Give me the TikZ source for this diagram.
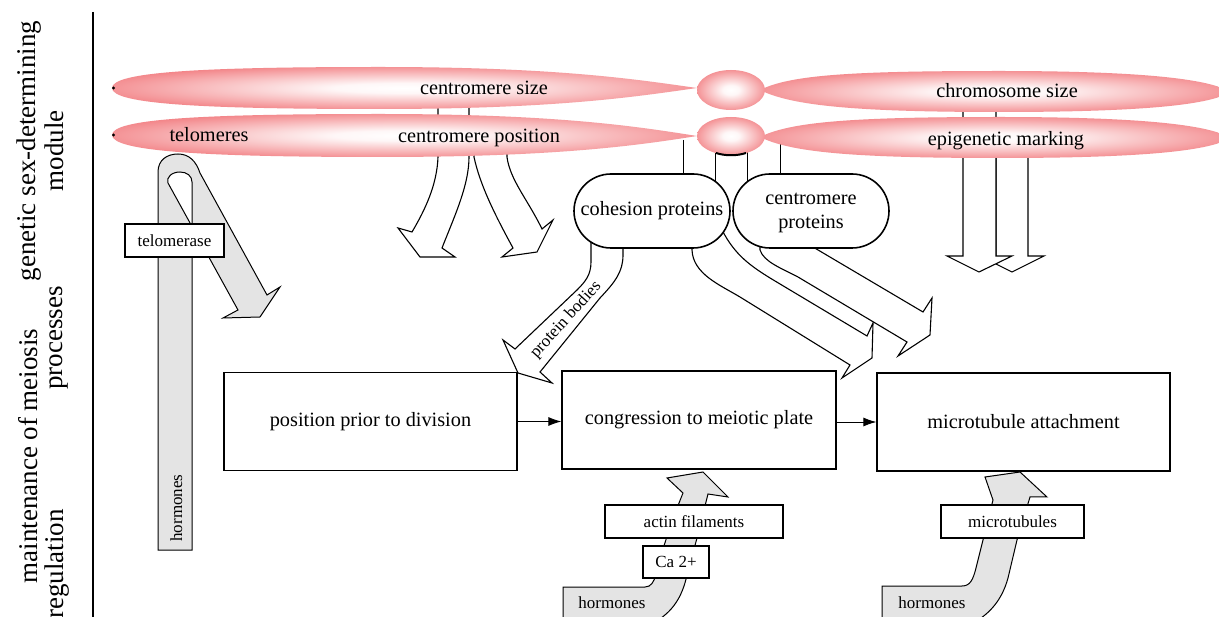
\documentclass[tikz,border=0pt]{standalone}
\usepackage{fontspec}
\setmainfont{Liberation Serif}
\usetikzlibrary{arrows.meta}
\definecolor{chrpink}{RGB}{241,116,120}
\definecolor{arrgray}{RGB}{228,228,228}
\pgfdeclareradialshading{chromo}{\pgfpoint{0bp}{0bp}}{color(0bp)=(white); color(6bp)=(white!94!chrpink); color(31bp)=(chrpink); color(50bp)=(chrpink)}
\newcommand{\sdBig}{\fontsize{27}{32}\selectfont}
\newcommand{\sdMid}{\fontsize{20.3}{25}\selectfont}
\newcommand{\sdSmall}{\fontsize{17}{20}\selectfont}
\tikzset{
  hollow/.style={draw=black, fill=white, line width=1.1pt, line join=miter},
  grayarr/.style={draw=black, fill=arrgray, line width=1pt, line join=miter},
  chrom/.style={shading=chromo},
  stad/.style={draw, fill=white, line width=1.6pt, rounded corners=37pt, minimum width=156pt, minimum height=74pt, inner sep=0pt, font=\sdMid, align=center},
  procbox/.style={draw, fill=white, line width=1.2pt, minimum height=98pt, inner sep=0pt, font=\sdMid},
  tagbox/.style={draw, fill=white, line width=1.1pt, minimum height=33pt, inner sep=0pt, font=\sdSmall},
  sidelbl/.style={font=\sdBig, rotate=90, anchor=base, inner sep=0pt},
  chrlbl/.style={font=\sdMid, anchor=base, inner sep=0pt},
  conn/.style={line width=1pt},
  flow/.style={line width=0.9pt, -{Latex[length=13pt,width=9pt]}}
}
\begin{document}
\begin{tikzpicture}[x=1pt,y=-1pt]
\path[use as bounding box] (0,0) rectangle (1219,617);
\clip (0,0) rectangle (1219,617);
\fill[white] (0,0) rectangle (1219,617);

% side divider and labels
\draw[line width=1.8pt] (93,12) -- (93,617);
\node[sidelbl] (lab1) at (35,151) {genetic sex-determining};
\node[sidelbl] (lab2) at (63,151) {module};
\node[sidelbl] (lab3) at (37,456) {maintenance of meiosis};
\node[sidelbl] (lab4) at (62,338) {processes};
\node[sidelbl] (lab5) at (63,564) {regulation};

% hollow arrows from chromosomes
\path[hollow] (438,95) -- (438,157) .. controls (437,185) and (425,210) .. (412,232) -- (398,228) -- (420,257) -- (455,257) -- (442,248) .. controls (455,215) and (469,185) .. (469,157) -- (469,95) -- cycle;
\path[hollow] (474,140) -- (474,157) .. controls (480,185) and (495,215) .. (513,248) -- (502,257) -- (537,252) -- (553,220) -- (542,229) .. controls (528,200) and (510,180) .. (507,157) -- (507,140) -- cycle;
\path[hollow] (996,140) -- (996,256) -- (980,256) -- (1012,272) -- (1044,256) -- (1028,256) -- (1028,140) -- cycle;
\path[hollow] (963,95) -- (963,256) -- (947,256) -- (979,272) -- (1012,256) -- (996,256) -- (996,95) -- cycle;
% arrows from protein boxes
\path[hollow] (591,235) -- (591,262) .. controls (591,275) and (585,282) .. (577,290) -- (515,349) -- (503,340) -- (518,373) -- (552,383) -- (540,372) -- (600,298) .. controls (615,282) and (623,272) .. (623,255) -- (623,235) -- cycle;
\path[hollow] (692,235) -- (692,250) .. controls (693,274) and (720,285) .. (740,297) -- (850,365) -- (842,378) -- (872,358) -- (873,323) -- (867,336) -- (775,281) .. controls (750,266) and (735,255) .. (722,230) -- cycle;
\path[hollow] (760,235) -- (760,250) .. controls (764,262) and (781,268) .. (798,277) -- (907,342) -- (898,356) -- (930,335) -- (932,298) -- (923,312) -- (813,247) -- (813,235) -- cycle;

% connector lines from chromosomes to protein boxes
\draw[conn] (683,140) -- (683,180);
\draw[conn] (715,140) -- (715,195);
\draw[conn] (747,140) -- (747,195);
\draw[conn] (780,140) -- (780,180);

% telomere loop arrow
\path[grayarr, even odd rule] (158,550) -- (158,172) .. controls (158,160) and (167,154) .. (178,154) .. controls (189,154) and (196,161) .. (200,173) -- (267,295) -- (280,287) -- (260,317) -- (223,318) -- (238,310) -- (168,183) .. controls (166,177) and (172,172) .. (180,172) .. controls (187,172) and (192,176) .. (192,182) -- (192,550) -- cycle;

% chromosomes
\path[chrom] (697,88) .. controls (640,80) and (560,67) .. (380,67) .. controls (200,67) and (112,72) .. (112,88) .. controls (112,104) and (200,109) .. (380,109) .. controls (560,109) and (640,96) .. (697,88) -- cycle;
\path[chrom] (760,90) .. controls (790,75) and (850,71) .. (1000,71) .. controls (1150,71) and (1212,80) .. (1230,92) .. controls (1212,104) and (1150,112) .. (1000,112) .. controls (850,112) and (790,105) .. (760,90) -- cycle;
\path[chrom] (697,136) .. controls (640,127) and (560,114) .. (380,114) .. controls (200,114) and (112,119) .. (112,135) .. controls (112,151) and (200,157) .. (380,157) .. controls (560,157) and (640,145) .. (697,136) -- cycle;
\path[chrom] (760,137) .. controls (790,122) and (850,117) .. (1000,117) .. controls (1150,117) and (1212,126) .. (1230,138) .. controls (1212,150) and (1150,158) .. (1000,158) .. controls (850,158) and (790,152) .. (760,137) -- cycle;
\path[chrom] (731,90) ellipse [x radius=34pt, y radius=20pt];
\path[chrom] (731,136) ellipse [x radius=34pt, y radius=19pt];
\fill (113.5,88) circle (1.6pt);
\fill (113.5,135) circle (1.6pt);
\draw[line width=2pt] (716,153) .. controls (725,156) and (737,156) .. (746,153);

\node[chrlbl] (csize) at (484,95) {centromere size};
\node[chrlbl] (cpos) at (479,143) {centromere position};
\node[chrlbl] (telo) at (209,142) {telomeres};
\node[chrlbl] (chsize) at (1007,98) {chromosome size};
\node[chrlbl] (epi) at (1006,146) {epigenetic marking};

% protein boxes
\node[stad] (coh) at (652,211) {cohesion proteins};
\node[stad, text depth=0pt] (cenp) at (811,211) {centromere\\[-1pt]proteins};

% process boxes
\node[procbox, minimum width=293pt] (pos) at (370.5,421.5) {position prior to division};
\node[procbox, minimum width=274pt] (cong) at (699,420) {congression to meiotic plate};
\node[procbox, minimum width=293pt] (mt) at (1023.5,422) {microtubule attachment};
\draw[flow] (pos.east) -- (pos.east -| cong.west);
\draw[flow] (cong.east |- mt.west) -- (mt.west);

% hormone arrows
\path[grayarr] (563,622) -- (563,587) -- (645,587) .. controls (651,587) and (654,582) .. (656,574) .. controls (662,550) and (672,520) .. (683,493) -- (667,478) -- (703,472) -- (728,497) -- (708,494) -- (697,538) -- (687,575) .. controls (682,598) and (672,612) .. (655,622) -- cycle;
\path[grayarr] (882,622) -- (882,586) -- (962,586) .. controls (970,586) and (973,580) .. (976,568) -- (993,500) -- (985,477) -- (1020,472) -- (1047,497) -- (1030,497) -- (1017,540) -- (1008,578) .. controls (1002,600) and (990,613) .. (975,622) -- cycle;

% tag boxes
\node[tagbox, minimum width=99pt] (telase) at (174.5,240.5) {telomerase};
\node[tagbox, minimum width=178pt] (actin) at (694,521.5) {actin filaments};
\node[tagbox, minimum width=66pt, minimum height=32pt] (ca) at (676,562) {Ca 2+};
\node[tagbox, minimum width=143pt] (mtub) at (1012.5,521.5) {microtubules};

% free labels
\node[font=\sdSmall, anchor=base, inner sep=0pt] (hor1) at (612,608) {hormones};
\node[font=\sdSmall, anchor=base, inner sep=0pt] (hor2) at (932,608) {hormones};
\node[font=\sdSmall, anchor=base, inner sep=0pt, rotate=90] (hor3) at (182,508) {hormones};
\node[font=\sdSmall, inner sep=0pt, rotate=47.8] (pbod) at (566,320) {protein bodies};
\end{tikzpicture}
\end{document}
